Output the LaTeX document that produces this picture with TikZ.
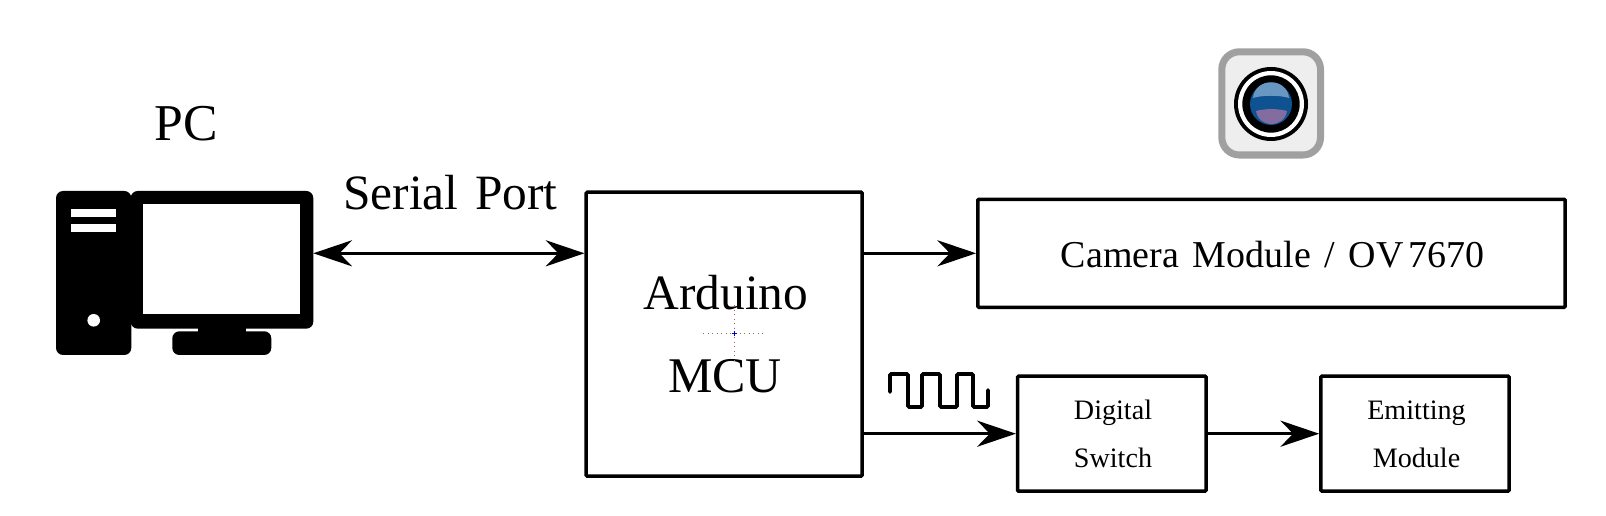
\documentclass[tikz,border=0pt]{standalone}
\usepackage{fontspec}
\setmainfont{Liberation Serif}
\usetikzlibrary{calc}
\usetikzlibrary{positioning}
\usetikzlibrary{arrows.meta}

\definecolor{lensblue}{RGB}{14,82,146}
\definecolor{lenstop}{RGB}{104,152,194}
\definecolor{lensbottom}{RGB}{130,108,160}
\definecolor{framegray}{RGB}{160,160,160}
\definecolor{facegray}{RGB}{238,238,238}
\definecolor{guidebrown}{RGB}{150,105,90}

\begin{document}
\begin{tikzpicture}[x=0.01cm, y=-0.01cm,
    blockbox/.style={draw=black, line width=1pt, rounded corners=0.3pt, inner sep=0pt},
    biglabel/.style={font=\fontsize{14.05}{14}\selectfont, inner sep=0pt},
    smalllabel/.style={font=\fontsize{8}{8}\selectfont, inner sep=0pt},
    midlabel/.style={font=\fontsize{10.8}{11}\selectfont, inner sep=0pt},
    signalline/.style={line width=1pt, -{Stealth[length=11pt, width=7.4pt]}},
]
    \useasboundingbox (0, 0) rectangle (1606, 516);

    % PC
    \node[biglabel, font=\fontsize{14.7}{15}\selectfont] (pc_title) at (186, 124) {PC};
    \fill[black, rounded corners=2pt] (56, 191) rectangle (131.3, 355);
    \fill[black, rounded corners=2pt] (130.7, 191) rectangle (313.3, 328.7);
    \fill[black] (198, 325) rectangle (245.7, 340);
    \fill[black, rounded corners=2pt] (172.3, 331.3) rectangle (271.3, 355);
    \fill[white] (143.3, 204.3) rectangle (300, 314.3);
    \fill[white] (71.3, 208.7) rectangle (116, 216.7);
    \fill[white] (71.3, 224.3) rectangle (116, 232.3);
    \fill[white] (93.7, 320.3) circle (6.3);
    \coordinate (pc_port) at (313.3, 253.3);

    % Camera icon
    \draw[framegray, fill=facegray, line width=2pt, rounded corners=5pt] (1221.8, 51.8) rectangle (1320.5, 155);
    \fill[black] (1271, 104) circle (37);
    \fill[white] (1271, 104) circle (33);
    \fill[black] (1271, 104) circle (28.7);
    \fill[lensblue] (1271, 104) circle (21);
    \fill[lenstop] (1253, 98) .. controls (1255, 77) and (1287, 77) .. (1289, 98) .. controls (1280, 95) and (1262, 95) .. (1253, 98) -- cycle;
    \fill[lensbottom] (1256, 111) .. controls (1265, 108.5) and (1278, 108.5) .. (1287, 111) .. controls (1284, 128.5) and (1259, 128.5) .. (1256, 111) -- cycle;

    % Blocks
    \node[blockbox, minimum width=2.757cm, minimum height=2.838cm] (arduino) at (724.15, 334.2) {};
    \node[biglabel] (arduino_title) at (726, 293) {Arduino};
    \node[biglabel, font=\fontsize{14.2}{14}\selectfont] (mcu_title) at (725, 376) {MCU};
    \node[blockbox, minimum width=5.87cm, minimum height=1.08cm] (camera) at (1271.5, 253.3) {};
    \node[midlabel] (camera_title) at (1272.5, 255) {Camera\hspace{0.36em}Module\hspace{0.36em}/\hspace{0.36em}OV\hspace{0.12em}7670};
    \node[blockbox, minimum width=1.883cm, minimum height=1.15cm] (switch) at (1111.85, 433.7) {};
    \node[smalllabel] (switch_top) at (1113, 413) {Digital};
    \node[smalllabel] (switch_bottom) at (1113, 458) {Switch};
    \node[blockbox, minimum width=1.88cm, minimum height=1.15cm] (emitter) at (1415, 433.7) {};
    \node[smalllabel] (emitter_top) at (1416.5, 413) {Emitting};
    \node[smalllabel] (emitter_bottom) at (1416.5, 458) {Module};

    % Links
    \node[biglabel] (serial_title) at (450.5, 193) {Serial\hspace{0.34em}Port};
    \draw[line width=1pt, {Stealth[length=11pt, width=7.4pt]}-{Stealth[length=11pt, width=7.4pt]}] (pc_port) -- (arduino.west |- pc_port);
    \draw[signalline] (arduino.east |- camera.west) -- (camera.west);
    \draw[signalline] (arduino.east |- switch.west) -- (switch.west);
    \draw[signalline] (switch.east) -- (emitter.west);

    % Pulse train
    \draw[line width=1.1pt, rounded corners=0.4pt, line cap=round] (890, 392) -- (890, 374) -- (908, 374) -- (908, 407) -- (922, 407) -- (922, 374) -- (940, 374) -- (940, 407) -- (957, 407) -- (957, 374) -- (973, 374) -- (973, 407) -- (988, 407) -- (988, 390);

    % Centre mark
    \draw[guidebrown, densely dotted, line width=0.3pt] (703, 333.3) -- (763, 333.3) (734.3, 305) -- (734.3, 362);
    \draw[blue!80!black, line width=0.4pt] (731.8, 333.3) -- (736.8, 333.3) (734.3, 330.8) -- (734.3, 335.8);
\end{tikzpicture}
\end{document}
